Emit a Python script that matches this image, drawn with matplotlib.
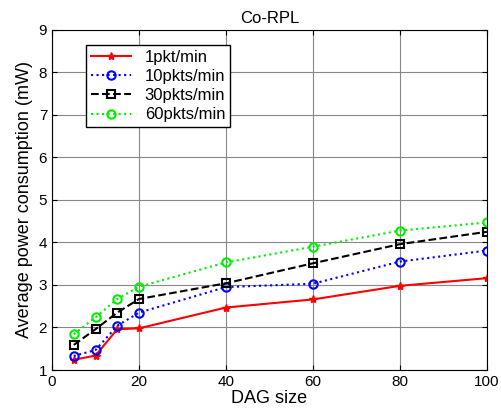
import matplotlib
matplotlib.use('Agg')
import matplotlib.pyplot as plt

plt.rcParams['font.family'] = ['Liberation Sans', 'DejaVu Sans']

dag_size = [5, 10, 15, 20, 40, 60, 80, 100]
p1 = [1.24, 1.34, 1.96, 1.98, 2.47, 2.66, 2.98, 3.16]
p10 = [1.33, 1.47, 2.04, 2.35, 2.95, 3.03, 3.55, 3.81]
p30 = [1.59, 1.96, 2.35, 2.67, 3.04, 3.51, 3.96, 4.25]
p60 = [1.84, 2.24, 2.67, 2.96, 3.53, 3.90, 4.28, 4.47]
labels = ['1pkt/min', '10pkts/min', '30pkts/min', '60pkts/min']

fig = plt.figure(figsize=(5.02, 4.2), dpi=100)
ax = fig.add_axes([0.1036, 0.119, 0.8664, 0.81])

ax.plot(dag_size, p1, '-', color='red', marker='*', ms=6, lw=1.5, label=labels[0])
ax.plot(dag_size, p10, ':', color='blue', marker='o', ms=6, mfc='none', mew=1.5, lw=1.5, label=labels[1])
ax.plot(dag_size, p30, '--', color='black', marker='s', ms=6, mfc='none', mew=1.5, lw=1.5, label=labels[2])
ax.plot(dag_size, p60, ':', color='#00ee00', marker='o', ms=6, mfc='none', mew=1.5, lw=1.5, label=labels[3])

ax.set_xlim(0, 100)
ax.set_ylim(1, 9)
ax.set_xticks([0, 20, 40, 60, 80, 100])
ax.set_yticks(range(1, 10))
ax.grid(True, color='#888888', lw=0.8)
ax.tick_params(direction='in', top=True, right=True, labelsize=11)
ax.set_xlabel('DAG size', fontsize=13, labelpad=1)
ax.set_ylabel('Average power consumption (mW)', fontsize=13)
ax.set_title('Co-RPL', fontsize=12, pad=5)

leg = ax.legend(loc='upper left', bbox_to_anchor=(0.06, 0.98), fontsize=12,
                fancybox=False, framealpha=1, edgecolor='black',
                handlelength=2.4, borderpad=0.3, labelspacing=0.25)
leg.get_frame().set_linewidth(1.0)

fig.savefig('out.png', dpi=100)
